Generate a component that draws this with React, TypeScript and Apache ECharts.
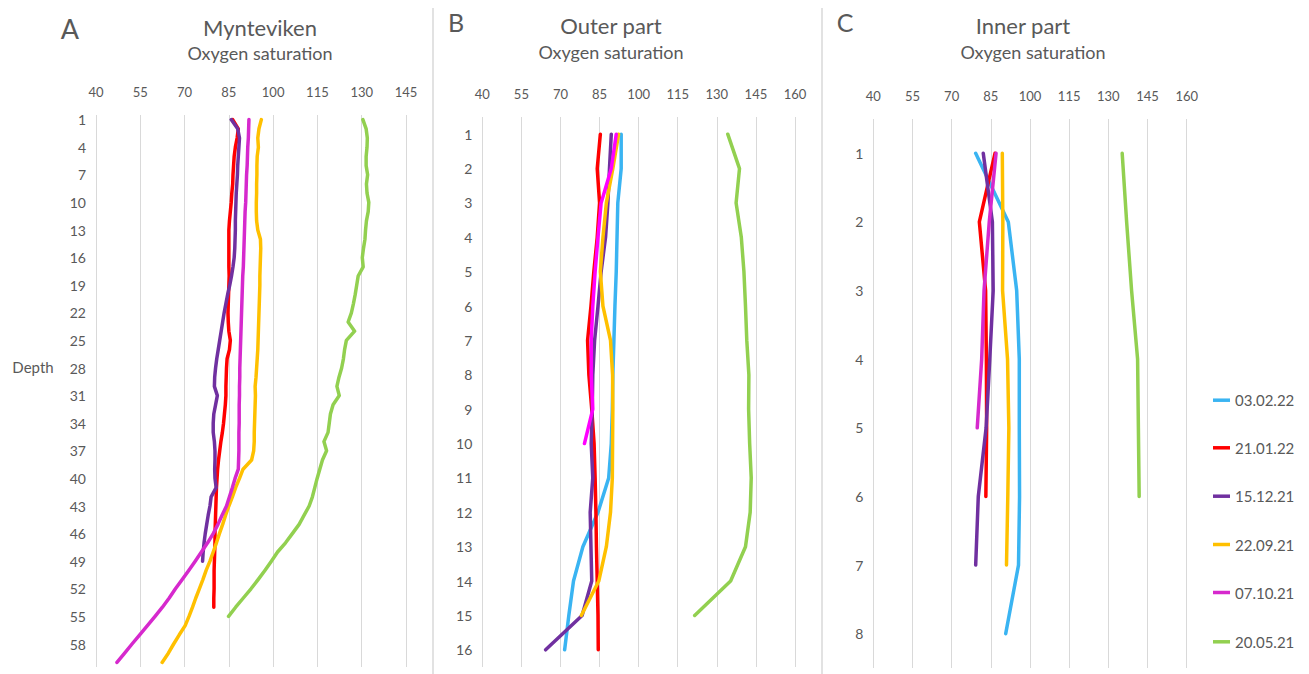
import React, { useEffect, useRef } from "react";
import * as echarts from "echarts";

const FONT = "Lato, 'Noto Sans', sans-serif";
const TXT = "#595959";
const GRID = "#D9D9D9";

// Series names (legend order)
const NAMES = ["03.02.22", "21.01.22", "15.12.21", "22.09.21", "07.10.21", "20.05.21"];
const COLORS = ["#3AB4F2", "#FF0000", "#7030A0", "#FFC000", "#D629CD", "#92D050"];
const MAGENTA_B = "#FF00FF";

// X-axis ticks
const X_MIN = 40;
const X_STEP = 15;
const X_MAX_A = 145;
const X_MAX_BC = 160;

// Depth categories
const depthsA = Array.from({ length: 60 }, (_, i) => String(i + 1));
const depthsB = Array.from({ length: 16 }, (_, i) => String(i + 1));
const depthsC = Array.from({ length: 8 }, (_, i) => String(i + 1));

// Panel A – Mynteviken
const A_red = [86.3, 88.2, 87.8, 87.2, 86.8, 86.6, 86.4, 86.3, 86.0, 85.8, 85.5, 85.2, 85.0, 85.0, 85.0, 85.0, 85.0, 85.1, 85.0, 84.9, 84.8, 84.7, 84.8, 85.0, 85.5, 85.2, 84.4, 84.2, 84.1, 84.0, 84.0, 83.8, 83.5, 83.2, 82.8, 82.3, 81.9, 81.5, 81.2, 81.0, 80.8, 80.7, 80.6, 80.5, 80.4, 80.3, 80.3, 80.2, 80.1, 80.0, 80.0, 80.0, 79.9, 79.9];
const A_purple = [85.8, 88.0, 88.6, 88.4, 88.2, 88.0, 87.9, 87.7, 87.5, 87.4, 87.3, 87.2, 87.2, 87.1, 87.0, 86.8, 86.4, 85.9, 85.3, 84.6, 84.0, 83.4, 82.9, 82.4, 81.9, 81.4, 80.9, 80.5, 80.2, 80.1, 81.1, 80.5, 79.9, 79.7, 79.7, 80.1, 80.3, 80.3, 80.2, 80.3, 80.7, 79.0, 78.6, 78.0, 77.5, 77.0, 76.6, 76.3, 76.1];
const A_orange = [96.0, 95.2, 94.8, 95.0, 94.6, 94.5, 94.5, 94.4, 94.4, 94.3, 94.3, 94.4, 94.8, 95.7, 95.8, 95.7, 95.6, 95.5, 95.5, 95.4, 95.3, 95.2, 95.1, 95.0, 94.9, 94.8, 94.6, 94.4, 94.2, 93.9, 94.0, 93.9, 93.8, 93.7, 93.6, 93.6, 93.4, 92.7, 89.8, 88.6, 87.3, 86.2, 85.0, 83.9, 82.9, 81.8, 80.8, 79.7, 78.6, 77.3, 76.2, 75.0, 73.8, 72.7, 71.5, 70.2, 68.2, 66.3, 64.5, 62.4];
const A_magenta = [91.8, 91.7, 91.6, 91.4, 91.3, 91.2, 91.0, 90.9, 90.8, 90.7, 90.5, 90.4, 90.3, 90.2, 90.1, 90.0, 89.9, 89.7, 89.6, 89.5, 89.4, 89.3, 89.2, 89.1, 89.0, 88.9, 88.8, 88.7, 88.7, 88.6, 88.6, 88.5, 88.5, 88.5, 88.4, 88.4, 88.4, 88.3, 88.2, 87.1, 86.2, 85.2, 84.2, 82.7, 81.3, 79.7, 77.8, 75.7, 73.6, 71.4, 69.2, 66.9, 64.8, 62.5, 60.0, 57.4, 54.8, 52.2, 49.7, 47.1];
const A_green = [130.4, 131.5, 131.9, 131.8, 131.5, 131.5, 132.0, 131.6, 131.8, 132.4, 132.2, 131.6, 131.3, 131.1, 130.6, 130.2, 130.5, 128.8, 128.3, 127.8, 127.2, 126.5, 125.4, 127.6, 124.8, 124.2, 123.8, 123.2, 122.3, 121.6, 122.4, 120.3, 119.4, 119.0, 118.6, 117.2, 118.1, 116.7, 115.8, 114.9, 114.1, 113.3, 112.2, 110.5, 108.8, 106.5, 104.2, 101.5, 99.4, 97.2, 94.9, 92.5, 89.9, 87.3, 84.9];

// Panel B – Outer part
const B_blue = [93.3, 93.3, 92.0, 91.7, 91.4, 90.9, 90.5, 90.1, 89.9, 89.5, 88.5, 84.4, 78.6, 75.0, 73.2, 71.6];
const B_red = [85.3, 84.1, 85.0, 84.1, 82.8, 81.7, 80.4, 80.9, 82.0, 82.9, 83.3, 83.6, 83.8, 84.1, 84.4, 84.5];
const B_purple = [89.5, 88.8, 88.2, 87.3, 85.6, 84.4, 83.1, 82.4, 82.2, 81.8, 82.4, 81.4, 81.7, 82.0, 78.3, 64.3];
const B_orange = [92.3, 90.1, 87.6, 86.3, 85.3, 86.3, 89.2, 90.0, 90.1, 90.0, 89.9, 89.2, 87.6, 84.7, 78.0];
const B_magenta = [91.4, 89.5, 85.6, 84.4, 83.3, 82.4, 81.8, 81.8, 82.4, 79.2];
const B_green = [134.2, 138.7, 137.4, 139.4, 140.4, 141.0, 141.5, 142.3, 142.2, 142.6, 143.2, 142.8, 141.0, 135.3, 121.5];

// Panel C – Inner part
const C_blue = [79.2, 91.7, 94.9, 95.9, 95.9, 96.0, 95.6, 90.7];
const C_red = [86.6, 80.6, 83.0, 83.3, 83.4, 83.1];
const C_purple = [82.1, 85.6, 85.9, 84.6, 83.2, 80.2, 79.2];
const C_orange = [89.4, 89.6, 89.5, 91.4, 91.9, 91.5, 91.0];
const C_magenta = [87.0, 84.4, 82.4, 81.5, 79.8];
const C_green = [135.3, 137.0, 138.9, 141.2, 141.5, 141.8];

const panelA = [null, A_red, A_purple, A_orange, A_magenta, A_green];
const panelB = [B_blue, B_red, B_purple, B_orange, B_magenta, B_green];
const panelC = [C_blue, C_red, C_purple, C_orange, C_magenta, C_green];

const LEGEND_Y = [401.7, 449.3, 497.7, 546, 594, 643.3];

function buildOption() {
  const grids = [
    { left: 96, top: 115, width: 310, height: 552 },
    { left: 482.3, top: 117, width: 312.7, height: 550 },
    { left: 873.3, top: 119, width: 313.4, height: 549 },
  ];
  const cats = [depthsA, depthsB, depthsC];
  const maxes = [X_MAX_A, X_MAX_BC, X_MAX_BC];
  const xAxis = grids.map((_, i) => ({
    gridIndex: i,
    type: "value",
    position: "top",
    min: X_MIN,
    max: maxes[i],
    interval: X_STEP,
    axisLine: { show: false },
    axisTick: { show: false },
    splitLine: { show: true, lineStyle: { color: GRID, width: 1 } },
    axisLabel: { color: TXT, fontSize: 13, fontFamily: FONT, margin: 17 },
  }));
  const yAxis = grids.map((_, i) => ({
    gridIndex: i,
    type: "category",
    inverse: true,
    data: cats[i],
    boundaryGap: true,
    axisLine: { show: false },
    axisTick: { show: false },
    splitLine: { show: false },
    axisLabel: { interval: i === 0 ? 2 : 0, color: TXT, fontSize: 14, fontFamily: FONT, margin: 10 },
  }));

  const series: any[] = [];
  [panelA, panelB, panelC].forEach((panel, p) => {
    panel.forEach((vals, k) => {
      if (!vals) return;
      const c = p === 1 && k === 4 ? MAGENTA_B : COLORS[k];
      series.push({
        type: "line",
        name: NAMES[k],
        xAxisIndex: p,
        yAxisIndex: p,
        data: vals.map((v, j) => [v, cats[p][j]]),
        showSymbol: false,
        symbol: "none",
        color: c,
        itemStyle: { color: c },
        lineStyle: { color: c, width: 3.5, cap: "round", join: "round" },
        silent: true,
      });
    });
  });

  const legend = NAMES.map((n, i) => ({
    data: [n],
    orient: "vertical",
    left: 1213,
    top: LEGEND_Y[i] - 9,
    padding: 0,
    icon: "rect",
    itemWidth: 17,
    itemHeight: 3.5,
    textStyle: { color: TXT, fontSize: 15, fontFamily: FONT },
    selectedMode: false,
  }));

  const txt = (text: string, x: number, y: number, size: number) => ({
    type: "text",
    x,
    y,
    silent: true,
    style: { text, fill: TXT, font: `${size}px ${FONT}`, textAlign: "center", textVerticalAlign: "middle" },
  });
  const vline = (x: number) => ({
    type: "line",
    silent: true,
    shape: { x1: x, y1: 8, x2: x, y2: 674 },
    style: { stroke: GRID, lineWidth: 1.5 },
  });

  const graphic = [
    vline(433),
    vline(822),
    txt("A", 70, 28, 27),
    txt("Mynteviken", 260, 27, 22),
    txt("Oxygen saturation", 260, 53, 18),
    txt("B", 456, 22, 25),
    txt("Outer part", 611, 25, 22),
    txt("Oxygen saturation", 611, 52, 18),
    txt("C", 845, 22, 25),
    txt("Inner part", 1023, 25, 22),
    txt("Oxygen saturation", 1033, 52, 18),
    txt("Depth", 33, 367, 15),
  ];

  return {
    animation: false,
    backgroundColor: "#FFFFFF",
    grid: grids.map((g) => ({ ...g, containLabel: false })),
    xAxis,
    yAxis,
    legend,
    series,
    graphic,
  };
}

export default function App() {
  const ref = useRef<HTMLDivElement>(null);
  useEffect(() => {
    if (!ref.current) return;
    const chart = echarts.init(ref.current, null, { renderer: "svg" });
    chart.setOption(buildOption() as any);
    return () => chart.dispose();
  }, []);
  return (
    <div
      ref={ref}
      style={{ position: "fixed", left: 0, top: 0, width: 1309, height: 674, background: "#fff" }}
    />
  );
}
